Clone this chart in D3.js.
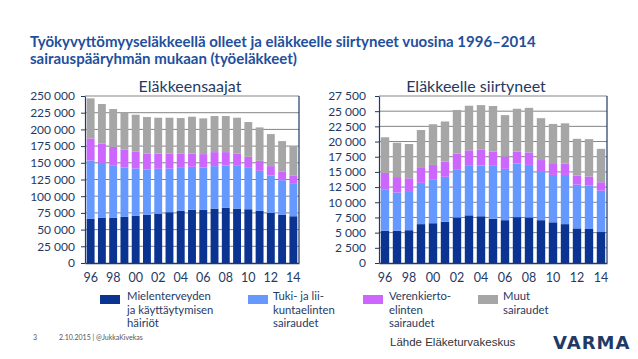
<!DOCTYPE html>
<html><head><meta charset="utf-8">
<script src="https://cdn.jsdelivr.net/npm/d3@7"></script>
<style>
html,body{margin:0;padding:0;background:#fff;}
svg{display:block;font-family:Lato,"Open Sans",sans-serif;}
</style></head><body>
<svg id="c" width="638" height="359"></svg>
<script>
const years = ["96","97","98","99","00","01","02","03","04","05","06","07","08","09","10","11","12","13","14"];
const yearLabels = ["96","98","00","02","04","06","08","10","12","14"];
const seriesNames = ["Mielenterveyden ja käyttäytymisen häiriöt","Tuki- ja liikuntaelinten sairaudet","Verenkiertoelinten sairaudet","Muut sairaudet"];
// Eläkkeensaajat (left)
const leftMental  = [66000,67500,67500,69000,70500,72000,74000,76000,78000,79500,80000,81500,82500,81500,80500,78000,75000,72500,70000];
const leftMuscle  = [87500,82500,78000,74000,71000,68000,67000,65500,64500,64500,63000,63500,63500,64000,62000,60000,56000,51500,48500];
const leftCirc    = [33000,29000,28500,26500,25000,24000,23000,22000,21000,20000,20000,21000,20000,18500,16500,15000,14000,12500,12000];
const leftOther   = [60000,59000,56500,56000,55500,54500,53500,54000,53500,55000,53500,54000,54000,53500,52000,50000,48000,46000,44500];
const leftTicks   = [0,25000,50000,75000,100000,125000,150000,175000,200000,225000,250000];
// Eläkkeelle siirtyneet (right)
const rightMental = [5300,5300,5400,6400,6550,6800,7500,7850,7700,7300,7050,7550,7500,7050,6700,6400,5700,5600,5100];
const rightMuscle = [6850,6300,6300,6800,7150,7400,7950,8150,8350,8700,8450,8850,8650,7950,7800,8100,7200,7150,6800];
const rightCirc   = [2700,2550,2250,2450,2450,2500,2550,2550,2600,2350,2050,1950,2050,1950,1800,1850,1500,1500,1400];
const rightOther  = [5850,5650,5650,6250,6700,6600,7200,7350,7350,7500,6800,7050,7350,6900,6600,6650,6050,6150,5500];
const rightTicks  = [0,2500,5000,7500,10000,12500,15000,17500,20000,22500,25000,27500];

const colors = ["#0b3392","#6699ff","#cc66ff","#a6a6a6"];
const navy = "#1f3a64";
const loc = d3.formatLocale({decimal:",",thousands:"\u00a0",grouping:[3],currency:["",""]});
const fmt = loc.format(",");

const svg = d3.select("#c");

// Main title
const title = svg.append("text").attr("x",30).attr("y",47)
  .attr("font-size",15).attr("font-weight","bold").attr("fill","#1f4f9d");
title.append("tspan").attr("x",30).attr("y",47).text("Työkyvyttömyyseläkkeellä olleet ja eläkkeelle siirtyneet vuosina 1996–2014");
title.append("tspan").attr("x",30).attr("y",64).text("sairauspääryhmän mukaan (työeläkkeet)");

function chart(cfg){
  const data = years.map((y,i)=>({year:y, s0:cfg.vals[0][i], s1:cfg.vals[1][i], s2:cfg.vals[2][i], s3:cfg.vals[3][i]}));
  const stack = d3.stack().keys(["s0","s1","s2","s3"])(data);
  const x = d3.scaleBand().domain(years).range([cfg.x0,cfg.x1]).paddingInner(0.3).paddingOuter(0.15);
  const y = d3.scaleLinear().domain([0,cfg.max]).range([cfg.y0,cfg.y1]);
  const g = svg.append("g");
  // gridlines
  g.append("g").selectAll("line").data(cfg.ticks.filter(t=>t>0)).join("line")
    .attr("x1",cfg.x0).attr("x2",cfg.x1).attr("y1",d=>y(d)).attr("y2",d=>y(d))
    .attr("stroke","#858585").attr("stroke-width",1);
  // bars
  g.append("g").selectAll("g").data(stack).join("g").attr("fill",(d,i)=>colors[i])
    .selectAll("rect").data(d=>d).join("rect")
    .attr("x",d=>x(d.data.year)).attr("width",x.bandwidth())
    .attr("y",d=>y(d[1])).attr("height",d=>y(d[0])-y(d[1]));
  // right frame
  g.append("line").attr("x1",cfg.x1).attr("x2",cfg.x1).attr("y1",y(cfg.max)).attr("y2",y(0))
    .attr("stroke",navy).attr("stroke-width",1.2);
  // y axis
  const ya = g.append("g").attr("transform",`translate(${cfg.x0},0)`)
    .call(d3.axisLeft(y).tickValues(cfg.ticks).tickFormat(fmt).tickSize(4).tickSizeOuter(0).tickPadding(cfg.pad));
  ya.select(".domain").attr("stroke",navy).attr("stroke-width",1.2);
  ya.selectAll(".tick line").attr("stroke",navy);
  ya.selectAll("text").attr("fill",navy).attr("font-size",12).attr("font-family","Lato,sans-serif");
  // x axis
  const xa = g.append("g").attr("transform",`translate(0,${cfg.y0})`)
    .call(d3.axisBottom(x).tickValues(yearLabels).tickSize(0).tickPadding(10));
  xa.select(".domain").attr("stroke",navy).attr("stroke-width",1.4);
  xa.selectAll("text").attr("fill",navy).attr("font-size",12.5).attr("font-family","Lato,sans-serif");
  // chart title
  svg.append("text").attr("x",cfg.tx).attr("y",92).attr("text-anchor","middle")
    .attr("font-size",16).attr("fill",navy).text(cfg.title);
}

chart({vals:[leftMental,leftMuscle,leftCirc,leftOther], max:250000, ticks:leftTicks,
  x0:85, x1:299, y0:263, y1:96, pad:6, title:"Eläkkeensaajat", tx:190});
chart({vals:[rightMental,rightMuscle,rightCirc,rightOther], max:27500, ticks:rightTicks,
  x0:379, x1:607, y0:263, y1:96, pad:9, title:"Eläkkeelle siirtyneet", tx:476});

// legend
const legend = [
  {lines:["Mielenterveyden","ja käyttäytymisen","häiriöt"], sx:100, tx:127},
  {lines:["Tuki- ja lii-","kuntaelinten","sairaudet"], sx:248, tx:273},
  {lines:["Verenkierto-","elinten","sairaudet"], sx:363, tx:389},
  {lines:["Muut","sairaudet"], sx:478, tx:503}
];
legend.forEach((l,i)=>{
  svg.append("rect").attr("x",l.sx).attr("y",295).attr("width",20).attr("height",9).attr("fill",colors[i]);
  l.lines.forEach((s,j)=>svg.append("text").attr("font-size",11.3).attr("fill",navy)
    .attr("x",l.tx).attr("y",300+j*13.6).text(s));
});

// footer
svg.append("text").attr("x",33).attr("y",340).attr("font-size",7).attr("fill","#555").text("3");
svg.append("text").attr("x",59).attr("y",340).attr("font-size",7).attr("fill","#555").text("2.10.2015 | @JukkaKivekas");
svg.append("text").attr("x",390).attr("y",346).attr("font-size",11.5).attr("fill","#333")
  .attr("font-family","'Liberation Sans',Arial,sans-serif").text("Lähde Eläketurvakeskus");
svg.append("text").attr("x",553).attr("y",349).attr("font-size",18).attr("font-weight","bold")
  .attr("letter-spacing",1).attr("fill","#1f3a64").attr("font-family","'DejaVu Sans',sans-serif").text("VARMA");
</script>
</body></html>
